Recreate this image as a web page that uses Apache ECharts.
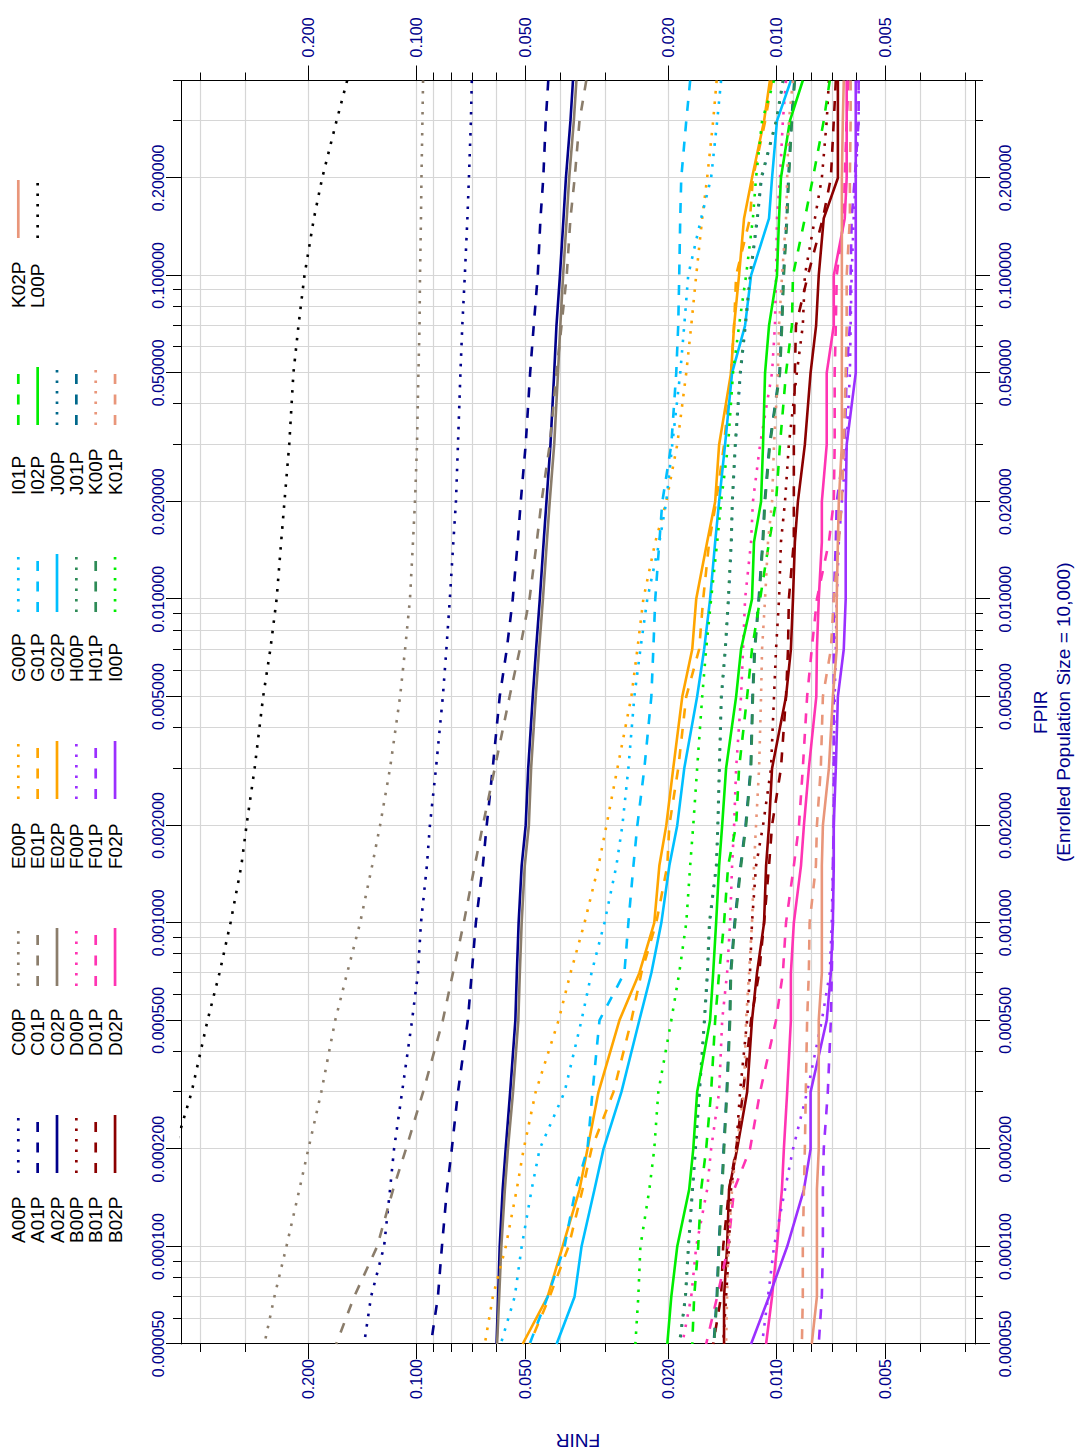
<!DOCTYPE html>
<html><head><meta charset="utf-8">
<script src="https://cdn.jsdelivr.net/npm/echarts@6/dist/echarts.min.js"></script>
<style>
html,body{margin:0;padding:0;background:#fff;overflow:hidden;width:1077px;height:1450px;}
#chart{position:absolute;left:0;top:0;width:1450px;height:1077px;transform-origin:0 0;transform:translate(0px,1450px) rotate(-90deg);}
</style></head><body><div id="chart"></div>
<script>
// FPIR sampling positions shared by all curves
const fpir = [0.4, 0.3, 0.2, 0.15, 0.1, 0.07, 0.05, 0.03, 0.02, 0.015, 0.01, 0.007, 0.005, 0.003, 0.002, 0.0015, 0.001, 0.0007, 0.0005, 0.0003, 0.0002, 0.00015, 0.0001, 0.00007, 0.00005];

// FNIR values, one per FPIR position
const A00P = [0.0703, 0.0707, 0.0716, 0.0723, 0.0735, 0.0747, 0.0756, 0.0768, 0.0778, 0.0791, 0.0809, 0.0827, 0.0846, 0.0884, 0.0919, 0.0937, 0.0973, 0.0992, 0.1030, 0.1098, 0.1156, 0.1186, 0.1232, 0.1339, 0.1400];
const A01P = [0.0431, 0.0438, 0.0445, 0.0453, 0.0461, 0.0473, 0.0484, 0.0498, 0.0514, 0.0524, 0.0541, 0.0562, 0.0588, 0.0615, 0.0639, 0.0655, 0.0685, 0.0703, 0.0721, 0.0768, 0.0799, 0.0824, 0.0851, 0.0873, 0.0913];
const A02P = [0.0368, 0.0374, 0.0385, 0.0391, 0.0400, 0.0409, 0.0415, 0.0425, 0.0436, 0.0444, 0.0455, 0.0466, 0.0476, 0.0490, 0.0498, 0.0511, 0.0521, 0.0527, 0.0532, 0.0550, 0.0566, 0.0577, 0.0588, 0.0594, 0.0600];
const B00P = [0.00716, 0.00726, 0.00749, 0.00783, 0.00835, 0.00846, 0.00879, 0.00925, 0.00948, 0.00973, 0.00985, 0.01004, 0.01017, 0.01037, 0.01091, 0.01141, 0.01171, 0.01186, 0.01208, 0.01264, 0.01296, 0.01339, 0.01356, 0.01382, 0.01408];
const B01P = [0.00685, 0.00694, 0.00707, 0.00744, 0.00819, 0.00884, 0.00890, 0.00896, 0.00896, 0.00896, 0.00925, 0.00930, 0.00942, 0.00973, 0.01030, 0.01050, 0.01084, 0.01119, 0.01178, 0.01240, 0.01296, 0.01356, 0.01408, 0.01427, 0.01501];
const B02P = [0.00676, 0.00676, 0.00676, 0.00740, 0.00764, 0.00777, 0.00805, 0.00835, 0.00873, 0.00890, 0.00901, 0.00913, 0.00942, 0.01030, 0.01050, 0.01070, 0.01084, 0.01134, 0.01171, 0.01208, 0.01288, 0.01356, 0.01373, 0.01400, 0.01400];
const C00P = [0.0960, 0.0964, 0.0970, 0.0973, 0.0979, 0.0982, 0.0989, 0.0998, 0.1011, 0.1024, 0.1044, 0.1077, 0.1112, 0.1186, 0.1264, 0.1330, 0.1436, 0.1560, 0.1684, 0.1841, 0.2000, 0.2118, 0.2301, 0.2485, 0.2649];
const C01P = [0.0338, 0.0353, 0.0364, 0.0374, 0.0383, 0.0396, 0.0409, 0.0427, 0.0450, 0.0464, 0.0486, 0.0517, 0.0552, 0.0607, 0.0655, 0.0690, 0.0740, 0.0793, 0.0846, 0.0960, 0.1071, 0.1163, 0.1288, 0.1492, 0.1673];
const C02P = [0.0360, 0.0366, 0.0377, 0.0383, 0.0392, 0.0399, 0.0405, 0.0415, 0.0427, 0.0435, 0.0446, 0.0457, 0.0467, 0.0481, 0.0488, 0.0501, 0.0511, 0.0517, 0.0522, 0.0540, 0.0558, 0.0569, 0.0582, 0.0590, 0.0598];
const D00P = [0.00942, 0.00961, 0.00979, 0.00998, 0.01004, 0.01011, 0.01030, 0.01112, 0.01164, 0.01178, 0.01224, 0.01240, 0.01256, 0.01296, 0.01313, 0.01330, 0.01347, 0.01373, 0.01417, 0.01445, 0.01521, 0.01560, 0.01673, 0.01727, 0.01829];
const D01P = [0.00631, 0.00639, 0.00647, 0.00651, 0.00681, 0.00685, 0.00690, 0.00690, 0.00694, 0.00716, 0.00773, 0.00799, 0.00823, 0.00846, 0.00867, 0.00896, 0.00942, 0.00961, 0.01004, 0.01112, 0.01186, 0.01313, 0.01364, 0.01463, 0.01570];
const D02P = [0.00639, 0.00639, 0.00639, 0.00647, 0.00694, 0.00694, 0.00726, 0.00726, 0.00749, 0.00749, 0.00764, 0.00773, 0.00776, 0.00814, 0.00840, 0.00856, 0.00896, 0.00913, 0.00913, 0.00935, 0.00955, 0.00967, 0.00998, 0.01030, 0.01070];
const E00P = [0.01468, 0.01501, 0.01560, 0.01610, 0.01673, 0.01727, 0.01783, 0.01889, 0.02026, 0.02174, 0.02346, 0.02438, 0.02533, 0.02770, 0.02971, 0.03126, 0.03418, 0.03738, 0.04035, 0.04673, 0.05045, 0.05274, 0.05657, 0.06145, 0.06468];
const E01P = [0.01030, 0.01076, 0.01164, 0.01186, 0.01296, 0.01313, 0.01339, 0.01400, 0.01473, 0.01540, 0.01600, 0.01642, 0.01783, 0.01877, 0.01987, 0.02013, 0.02160, 0.02376, 0.02533, 0.02841, 0.03269, 0.03462, 0.03785, 0.04273, 0.04855];
const E02P = [0.01044, 0.01084, 0.01171, 0.01232, 0.01272, 0.01313, 0.01339, 0.01445, 0.01482, 0.01560, 0.01673, 0.01716, 0.01829, 0.01938, 0.02026, 0.02118, 0.02188, 0.02407, 0.02734, 0.03126, 0.03354, 0.03529, 0.03933, 0.04327, 0.05077];
const F00P = [0.00592, 0.00592, 0.00603, 0.00611, 0.00619, 0.00623, 0.00626, 0.00639, 0.00659, 0.00672, 0.00681, 0.00685, 0.00690, 0.00694, 0.00694, 0.00698, 0.00703, 0.00712, 0.00749, 0.00823, 0.00901, 0.00948, 0.01017, 0.01057, 0.01098];
const F01P = [0.00592, 0.00592, 0.00607, 0.00619, 0.00623, 0.00626, 0.00639, 0.00647, 0.00681, 0.00685, 0.00694, 0.00694, 0.00694, 0.00694, 0.00694, 0.00698, 0.00698, 0.00703, 0.00707, 0.00721, 0.00740, 0.00744, 0.00744, 0.00749, 0.00764];
const F02P = [0.00603, 0.00603, 0.00603, 0.00603, 0.00603, 0.00603, 0.00603, 0.00639, 0.00643, 0.00643, 0.00643, 0.00651, 0.00676, 0.00685, 0.00694, 0.00694, 0.00698, 0.00707, 0.00726, 0.00805, 0.00805, 0.00840, 0.00935, 0.01050, 0.01178];
const G00P = [0.01427, 0.01463, 0.01521, 0.01621, 0.01761, 0.01806, 0.01853, 0.01950, 0.02026, 0.02118, 0.02288, 0.02391, 0.02485, 0.02582, 0.02683, 0.02788, 0.03009, 0.03269, 0.03484, 0.03884, 0.04555, 0.04794, 0.05109, 0.05341, 0.05841];
const G01P = [0.01739, 0.01783, 0.01841, 0.01853, 0.01865, 0.01877, 0.01901, 0.01962, 0.02078, 0.02118, 0.02174, 0.02201, 0.02229, 0.02331, 0.02438, 0.02500, 0.02582, 0.02649, 0.03106, 0.03248, 0.03354, 0.03620, 0.03884, 0.04327, 0.04855];
const G02P = [0.00913, 0.00998, 0.01030, 0.01050, 0.01178, 0.01224, 0.01330, 0.01391, 0.01445, 0.01482, 0.01531, 0.01590, 0.01663, 0.01806, 0.01889, 0.01987, 0.02091, 0.02229, 0.02407, 0.02700, 0.03028, 0.03207, 0.03484, 0.03643, 0.04086];
const H00P = [0.00961, 0.01004, 0.01105, 0.01134, 0.01186, 0.01224, 0.01264, 0.01305, 0.01330, 0.01339, 0.01364, 0.01391, 0.01427, 0.01445, 0.01459, 0.01473, 0.01540, 0.01560, 0.01590, 0.01642, 0.01684, 0.01716, 0.01761, 0.01795, 0.01865];
const H01P = [0.00890, 0.00907, 0.00925, 0.00935, 0.00955, 0.00966, 0.00979, 0.01044, 0.01077, 0.01091, 0.01119, 0.01149, 0.01164, 0.01178, 0.01216, 0.01256, 0.01305, 0.01339, 0.01347, 0.01373, 0.01400, 0.01417, 0.01445, 0.01463, 0.01492];
const I00P = [0.01017, 0.01098, 0.01141, 0.01164, 0.01216, 0.01272, 0.01322, 0.01364, 0.01427, 0.01463, 0.01521, 0.01570, 0.01610, 0.01663, 0.01705, 0.01739, 0.01783, 0.01865, 0.01962, 0.02132, 0.02188, 0.02258, 0.02391, 0.02423, 0.02469];
const I01P = [0.00712, 0.00740, 0.00793, 0.00835, 0.00901, 0.00907, 0.00942, 0.00979, 0.01004, 0.01050, 0.01112, 0.01171, 0.01208, 0.01272, 0.01296, 0.01364, 0.01400, 0.01445, 0.01482, 0.01521, 0.01570, 0.01621, 0.01652, 0.01695, 0.01716];
const I02P = [0.00846, 0.00919, 0.00973, 0.00985, 0.00998, 0.01050, 0.01077, 0.01091, 0.01105, 0.01156, 0.01171, 0.01256, 0.01296, 0.01382, 0.01417, 0.01445, 0.01473, 0.01501, 0.01531, 0.01663, 0.01705, 0.01750, 0.01889, 0.01962, 0.02013];
const J00P = [0.00958, 0.01001, 0.01101, 0.01130, 0.01182, 0.01220, 0.01260, 0.01301, 0.01326, 0.01335, 0.01360, 0.01387, 0.01423, 0.01441, 0.01455, 0.01469, 0.01535, 0.01555, 0.01585, 0.01637, 0.01679, 0.01711, 0.01756, 0.01790, 0.01860];
const J01P = [0.00893, 0.00910, 0.00928, 0.00938, 0.00958, 0.00969, 0.00982, 0.01047, 0.01080, 0.01094, 0.01122, 0.01152, 0.01167, 0.01181, 0.01220, 0.01260, 0.01309, 0.01343, 0.01351, 0.01377, 0.01404, 0.01421, 0.01449, 0.01467, 0.01496];
const K00P = [0.00901, 0.00925, 0.00935, 0.00942, 0.00966, 0.00985, 0.00992, 0.01017, 0.01030, 0.01057, 0.01077, 0.01098, 0.01105, 0.01119, 0.01141, 0.01156, 0.01171, 0.01193, 0.01216, 0.01232, 0.01296, 0.01330, 0.01364, 0.01373, 0.01382];
const K01P = [0.00623, 0.00623, 0.00626, 0.00626, 0.00639, 0.00639, 0.00643, 0.00651, 0.00659, 0.00672, 0.00694, 0.00707, 0.00744, 0.00754, 0.00773, 0.00778, 0.00810, 0.00814, 0.00823, 0.00830, 0.00835, 0.00840, 0.00846, 0.00846, 0.00851];
const K02P = [0.00651, 0.00655, 0.00659, 0.00659, 0.00659, 0.00659, 0.00659, 0.00659, 0.00672, 0.00676, 0.00681, 0.00681, 0.00698, 0.00716, 0.00744, 0.00749, 0.00749, 0.00749, 0.00764, 0.00764, 0.00764, 0.00773, 0.00773, 0.00773, 0.00799];
const L00P = [0.156, 0.167, 0.183, 0.193, 0.205, 0.213, 0.220, 0.226, 0.233, 0.238, 0.245, 0.255, 0.267, 0.282, 0.297, 0.307, 0.329, 0.353, 0.381, 0.422, 0.47, 0.52];

const seriesNames = ['A00P','A01P','A02P','B00P','B01P','B02P','C00P','C01P','C02P','D00P','D01P','D02P','E00P','E01P','E02P','F00P','F01P','F02P','G00P','G01P','G02P','H00P','H01P','I00P','I01P','I02P','J00P','J01P','K00P','K01P','K02P','L00P'];
const seriesValues = {A00P,A01P,A02P,B00P,B01P,B02P,C00P,C01P,C02P,D00P,D01P,D02P,E00P,E01P,E02P,F00P,F01P,F02P,G00P,G01P,G02P,H00P,H01P,I00P,I01P,I02P,J00P,J01P,K00P,K01P,K02P,L00P};
const legendColumns = [
  ['A00P','A01P','A02P','B00P','B01P','B02P'],
  ['C00P','C01P','C02P','D00P','D01P','D02P'],
  ['E00P','E01P','E02P','F00P','F01P','F02P'],
  ['G00P','G01P','G02P','H00P','H01P','I00P'],
  ['I01P','I02P','J00P','J01P','K00P','K01P'],
  ['K02P','L00P']
];
const groupColors = {A:'#00008B', B:'#8B0000', C:'#8B7D6B', D:'#FF34B3', E:'#FFA500', F:'#9B30FF', G:'#00BFFF', H:'#2E8B57', I:'#00EE00', J:'#00688B', K:'#E9967A', L:'#000000'};

// axes
const fpirRange = [0.00005, 0.4];
const fnirRange = [0.002812, 0.4516];
const fpirTickLabels = [0.00005, 0.0001, 0.0002, 0.0005, 0.001, 0.002, 0.005, 0.01, 0.02, 0.05, 0.1, 0.2];
const fnirTickLabels = [0.2, 0.1, 0.05, 0.02, 0.01, 0.005];
const fpirTitle = 'FPIR\n(Enrolled Population Size = 10,000)';
const fnirTitle = 'FNIR';

const FF = '"Liberation Sans", Arial, Helvetica, sans-serif';
const LABEL_C = '#00008B';
const lg = v => Math.log10(v);

function minorTicks(lo, hi) {
  const out = [];
  for (let e = -6; e <= 0; e++) {
    for (let m = 1; m <= 9; m++) {
      const v = m * Math.pow(10, e);
      if (v >= lo * 0.9999 && v <= hi * 1.0001) out.push(lg(v));
    }
  }
  return out;
}
const xMin = lg(fpirRange[0]), xMax = lg(fpirRange[1]);
const yMin = lg(fnirRange[0]), yMax = lg(fnirRange[1]);
const xMajor = fpirTickLabels.map(lg), yMajor = fnirTickLabels.map(lg);
const xMinor = minorTicks(fpirRange[0], fpirRange[1]);
const yMinor = minorTicks(fnirRange[0], fnirRange[1]);

const LW = 2.6;
const DOT = [2.6, 7.9], DASH = [10, 10.5];

const series = seriesNames.map(n => {
  const kind = n.slice(1, 3);
  const col = groupColors[n[0]];
  const vals = seriesValues[n];
  return {
    name: n, type: 'line', xAxisIndex: 0, yAxisIndex: 0,
    symbol: 'none', showSymbol: false, silent: true, clip: true,
    z: n[0] === 'J' ? 1 : 2,
    lineStyle: {color: col, width: LW, type: kind === '00' ? DOT : (kind === '01' ? DASH : 'solid'), cap: 'butt'},
    itemStyle: {color: col},
    data: vals.map((v, i) => [lg(fpir[i]), lg(v)])
  };
});

function majorX(pos, margin, extra) {
  return Object.assign({
    type: 'value', position: pos, min: xMin, max: xMax, gridIndex: 0,
    axisLine: {show: true, onZero: false, lineStyle: {color: '#000', width: 1}},
    axisTick: {show: true, length: 15, customValues: xMajor, lineStyle: {color: '#000', width: 1}},
    axisLabel: {show: true, customValues: xMajor, margin: margin, color: LABEL_C, fontSize: 16, fontFamily: FF,
      hideOverlap: false, formatter: v => Math.pow(10, v).toFixed(6)},
    splitLine: {show: false}
  }, extra || {});
}
function minorX(pos, grid) {
  return {
    type: 'value', position: pos, min: xMin, max: xMax, gridIndex: 0,
    axisLine: {show: false, onZero: false},
    axisTick: {show: true, length: 8, customValues: xMinor, lineStyle: {color: '#000', width: 1}},
    axisLabel: {show: false},
    splitLine: {show: grid, lineStyle: {color: '#d6d6d6', width: 1.2}}
  };
}
function majorY(pos, margin, extra) {
  return Object.assign({
    type: 'value', position: pos, min: yMin, max: yMax, gridIndex: 0,
    axisLine: {show: true, onZero: false, lineStyle: {color: '#000', width: 1}},
    axisTick: {show: true, length: 15, customValues: yMajor, lineStyle: {color: '#000', width: 1}},
    axisLabel: {show: true, customValues: yMajor, margin: margin, color: LABEL_C, fontSize: 16, fontFamily: FF,
      hideOverlap: false, formatter: v => Math.pow(10, v).toFixed(3)},
    splitLine: {show: false}
  }, extra || {});
}
function minorY(pos, grid) {
  return {
    type: 'value', position: pos, min: yMin, max: yMax, gridIndex: 0,
    axisLine: {show: false, onZero: false},
    axisTick: {show: true, length: 8, customValues: yMinor, lineStyle: {color: '#000', width: 1}},
    axisLabel: {show: false},
    splitLine: {show: grid, lineStyle: {color: '#d6d6d6', width: 1.2}}
  };
}

const option = {
  animation: false,
  backgroundColor: '#ffffff',
  textStyle: {fontFamily: FF},
  grid: {left: 106, right: 80.5, top: 181, bottom: 102, containLabel: false, outerBoundsMode: 'none', show: false},
  xAxis: [
    majorX('bottom', 22, {name: fpirTitle, nameLocation: 'middle', nameGap: 53.5,
      nameTextStyle: {color: LABEL_C, fontSize: 19, lineHeight: 23, fontFamily: FF}}),
    majorX('top', 15),
    minorX('bottom', true),
    minorX('top', false)
  ],
  yAxis: [
    majorY('left', 15, {name: fnirTitle, nameLocation: 'middle', nameGap: 87, nameRotate: 90,
      nameTextStyle: {color: LABEL_C, fontSize: 19, fontFamily: FF}}),
    majorY('right', 23),
    minorY('left', true),
    minorY('right', false)
  ],
  legend: legendColumns.map((names, k) => ({
    data: names, orient: 'vertical', left: 207 + 187 * k, top: 8.8, padding: 0,
    itemGap: 0.35, itemWidth: 58, itemHeight: 14, align: 'right', selectedMode: false,
    itemStyle: {color: 'rgba(0,0,0,0)', borderWidth: 0, opacity: 0},
    lineStyle: {width: 2.7},
    formatter: n => '{a|' + n + '}',
    textStyle: {color: '#000', fontFamily: FF, fontSize: 19,
      rich: {a: {width: 65, align: 'left', fontSize: 19, lineHeight: 19, color: '#000', fontFamily: FF}}}
  })),
  series: series
};

const chart = echarts.init(document.getElementById('chart'), null, {renderer: 'svg', width: 1450, height: 1077});
chart.setOption(option);
</script>
</body></html>
